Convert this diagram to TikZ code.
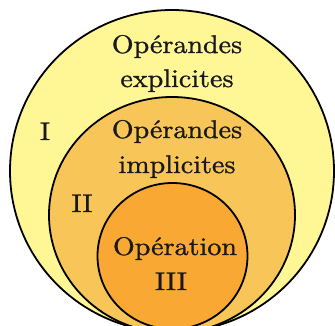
\documentclass[tikz,border=0pt]{standalone}
\usepackage{fontspec}
\newfontfamily\lblfont{lmroman10-regular.otf}[FakeStretch=1.1,FakeBold=1.0]
\usetikzlibrary{shapes.geometric}
\definecolor{outerfill}{RGB}{255,247,150}
\definecolor{midfill}{RGB}{248,197,88}
\definecolor{innerfill}{RGB}{249,168,52}
\tikzset{
  ring/.style={ellipse, draw=black, line width=1.8pt, inner sep=0pt},
  lbl/.style={anchor=base, inner sep=0pt, text=black!90, font=\lblfont\fontsize{25.5}{30}\selectfont}
}
\begin{document}
\begin{tikzpicture}[x=1pt,y=-1pt]
\useasboundingbox (0,0) rectangle (335,326);
\clip (0,0) rectangle (335,326);
\node[ring, fill=outerfill, minimum width=324pt, minimum height=322pt] (outer) at (172,171) {};
\node[ring, fill=midfill, minimum width=246pt, minimum height=236pt] (middle) at (172,215) {};
\node[ring, fill=innerfill, minimum width=150pt, minimum height=146pt] (inner) at (172.5,256) {};
\node[lbl] (t1a) at (177,53) {Opérandes};
\node[lbl] (t1b) at (177,87) {explicites};
\node[lbl] (n1) at (45,140) {I};
\node[lbl] (t2a) at (177,138) {Opérandes};
\node[lbl] (t2b) at (177,173) {implicites};
\node[lbl] (n2) at (82,212) {II};
\node[lbl] (t3a) at (175,255) {Opération};
\node[lbl] (n3) at (171,290) {III};
\end{tikzpicture}
\end{document}
